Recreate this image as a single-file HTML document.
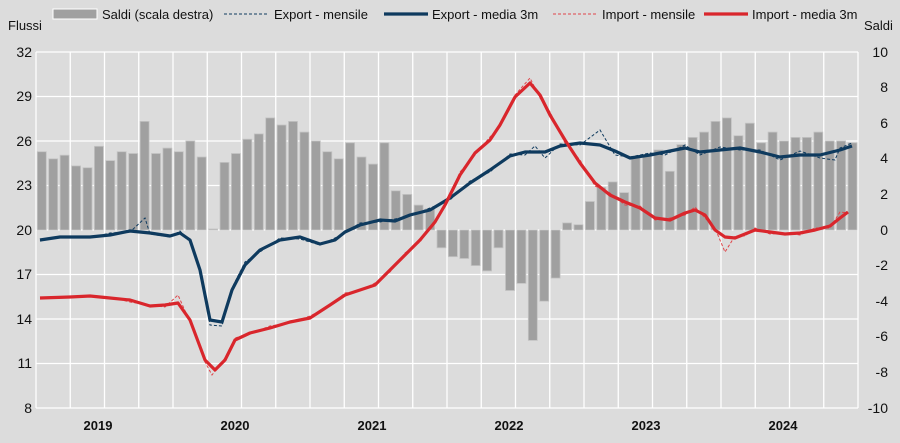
<!DOCTYPE html>
<html><head><meta charset="utf-8"><style>
html,body{margin:0;padding:0;background:#dcdcdc;}
svg{display:block;font-family:"Liberation Sans Narrow","Liberation Sans",sans-serif;}
</style></head><body>
<svg width="900" height="443" viewBox="0 0 900 443" xmlns="http://www.w3.org/2000/svg">
<rect width="900" height="443" fill="#dcdcdc"/>
<path stroke="#fff" stroke-width="1.3" fill="none" d="M36 52V408M70.25 52V408M104.5 52V408M138.75 52V408M173 52V408M207.25 52V408M241.5 52V408M275.75 52V408M310 52V408M344.25 52V408M378.5 52V408M412.75 52V408M447 52V408M481.25 52V408M515.5 52V408M549.75 52V408M584 52V408M618.25 52V408M652.5 52V408M686.75 52V408M721 52V408M755.25 52V408M789.5 52V408M823.75 52V408M858 52V408M36 52H858M36 96.5H858M36 141H858M36 185.5H858M36 230H858M36 274.5H858M36 319H858M36 363.5H858M36 408H858"/>
<g fill="#a0a0a0" stroke="#c4c4c4" stroke-width="0.8">
<rect x="37.3" y="151.7" width="9" height="78.3"/><rect x="48.7" y="158.8" width="9" height="71.2"/><rect x="60.1" y="155.2" width="9" height="74.8"/><rect x="71.6" y="165.9" width="9" height="64.1"/><rect x="83" y="167.7" width="9" height="62.3"/><rect x="94.4" y="146.3" width="9" height="83.7"/><rect x="105.8" y="160.6" width="9" height="69.4"/><rect x="117.2" y="151.7" width="9" height="78.3"/><rect x="128.7" y="153.5" width="9" height="76.5"/><rect x="140.1" y="121.4" width="9" height="108.6"/><rect x="151.5" y="153.5" width="9" height="76.5"/><rect x="162.9" y="148.1" width="9" height="81.9"/>
<rect x="174.3" y="151.7" width="9" height="78.3"/><rect x="185.8" y="141" width="9" height="89"/><rect x="197.2" y="157" width="9" height="73"/><rect x="208.6" y="229" width="9" height="1"/><rect x="220" y="162.4" width="9" height="67.6"/><rect x="231.4" y="153.5" width="9" height="76.5"/><rect x="242.8" y="139.2" width="9" height="90.8"/><rect x="254.3" y="133.9" width="9" height="96.1"/><rect x="265.7" y="117.9" width="9" height="112.1"/><rect x="277.1" y="125" width="9" height="105"/><rect x="288.5" y="121.4" width="9" height="108.6"/><rect x="299.9" y="132.1" width="9" height="97.9"/>
<rect x="311.4" y="141" width="9" height="89"/><rect x="322.8" y="151.7" width="9" height="78.3"/><rect x="334.2" y="158.8" width="9" height="71.2"/><rect x="345.6" y="142.8" width="9" height="87.2"/><rect x="357" y="157" width="9" height="73"/><rect x="368.5" y="164.1" width="9" height="65.9"/><rect x="379.9" y="142.8" width="9" height="87.2"/><rect x="391.3" y="190.8" width="9" height="39.2"/><rect x="402.7" y="194.4" width="9" height="35.6"/><rect x="414.1" y="205.1" width="9" height="24.9"/><rect x="425.6" y="208.6" width="9" height="21.4"/>
<rect x="437" y="230" width="9" height="17.8"/><rect x="448.4" y="230" width="9" height="26.7"/><rect x="459.8" y="230" width="9" height="28.5"/><rect x="471.2" y="230" width="9" height="35.6"/><rect x="482.6" y="230" width="9" height="40.9"/><rect x="494" y="230" width="9" height="17.8"/><rect x="505.5" y="230" width="9" height="60.5"/><rect x="516.9" y="230" width="9" height="53.4"/><rect x="528.3" y="230" width="9" height="110.4"/><rect x="539.7" y="230" width="9" height="71.2"/><rect x="551.1" y="230" width="9" height="48.1"/>
<rect x="562.6" y="222.9" width="9" height="7.1"/><rect x="574" y="224.7" width="9" height="5.3"/><rect x="585.4" y="201.5" width="9" height="28.5"/><rect x="596.8" y="187.3" width="9" height="42.7"/><rect x="608.2" y="181.9" width="9" height="48.1"/><rect x="619.7" y="192.6" width="9" height="37.4"/><rect x="631.1" y="157" width="9" height="73"/><rect x="642.5" y="155.2" width="9" height="74.8"/><rect x="653.9" y="149.9" width="9" height="80.1"/><rect x="665.3" y="171.3" width="9" height="58.7"/><rect x="676.8" y="144.6" width="9" height="85.4"/><rect x="688.2" y="137.4" width="9" height="92.6"/>
<rect x="699.6" y="132.1" width="9" height="97.9"/><rect x="711" y="121.4" width="9" height="108.6"/><rect x="722.4" y="117.9" width="9" height="112.1"/><rect x="733.9" y="135.7" width="9" height="94.3"/><rect x="745.3" y="123.2" width="9" height="106.8"/><rect x="756.7" y="142.8" width="9" height="87.2"/><rect x="768.1" y="132.1" width="9" height="97.9"/><rect x="779.5" y="141" width="9" height="89"/><rect x="791" y="137.4" width="9" height="92.6"/><rect x="802.4" y="137.4" width="9" height="92.6"/><rect x="813.8" y="132.1" width="9" height="97.9"/><rect x="825.2" y="141" width="9" height="89"/><rect x="836.6" y="141" width="9" height="89"/><rect x="848" y="142.8" width="9" height="87.2"/>
</g>
<polyline fill="none" stroke="#0e3a5e" stroke-width="1" stroke-dasharray="3,2" points="40,241 60,236 90,238 110,233 130,232 145,218 150,234 170,237 180,231 190,242 200,268 210,325 222,326 232,288 245,262 260,252 280,238 300,239 320,245 335,238 345,233 360,223 380,222 395,219 410,216 430,208 450,200 470,181 490,172 510,154 525,155 535,146 545,158 560,144 580,145 600,130 615,155 630,157 650,153 665,155 685,145 700,155 720,147 740,150 760,150 780,160 800,151 820,158 835,160 840,148 852,143"/>
<polyline fill="none" stroke="#e0454a" stroke-width="1" stroke-dasharray="3,2" points="40,299 70,296 90,297 110,297 130,302 150,305 165,307 178,295 190,322 205,362 212,375 225,358 235,338 250,334 270,326 290,323 310,316 330,306 345,293 360,291 375,283 390,272 405,253 420,242 435,220 445,207 460,172 475,155 490,137 500,127 515,95 530,78 540,98 550,112 565,143 580,160 595,186 610,193 625,205 640,206 655,220 670,218 685,215 695,207 705,218 715,228 725,252 735,236 745,236 755,228 770,234 785,233 800,235 815,228 830,228 840,212 848,213"/>
<polyline fill="none" stroke="#0e3a5e" stroke-width="3.2" stroke-linejoin="round" points="40,240 60,237 90,237 110,235 130,231 150,233 170,236 180,233 190,240 200,270 210,320 222,322 232,290 245,265 260,250 280,240 300,237 320,244 335,240 345,232 360,225 380,220 395,221 410,215 430,210 450,198 470,183 490,170 510,156 525,152 545,152 560,146 580,143 600,145 615,151 630,158 650,155 665,152 685,148 700,152 720,150 740,148 760,152 780,157 800,155 820,155 840,150 852,146"/>
<polyline fill="none" stroke="#d9262c" stroke-width="3.2" stroke-linejoin="round" points="40,298 70,297 90,296 110,298 130,300 150,306 165,305 178,303 190,320 205,360 215,370 225,360 235,340 250,333 270,328 290,322 310,318 330,305 345,295 360,290 375,285 390,270 405,255 420,240 435,222 445,205 460,175 475,153 490,140 500,125 515,97 530,83 540,95 550,115 565,140 580,163 595,183 610,195 625,202 640,208 655,218 670,220 685,213 695,210 705,215 715,230 725,237 735,238 745,234 755,230 770,232 785,234 800,233 815,230 830,226 840,218 848,212"/>
<g font-size="14" fill="#111">
<text x="8" y="30" font-size="13">Flussi</text>
<text x="864" y="30" font-size="13">Saldi</text>
<g text-anchor="end">
<text x="32" y="57">32</text><text x="32" y="101">29</text><text x="32" y="146">26</text><text x="32" y="190">23</text><text x="32" y="235">20</text><text x="32" y="279">17</text><text x="32" y="324">14</text><text x="32" y="368">11</text><text x="32" y="413">8</text>
<text x="888" y="57">10</text><text x="888" y="92">8</text><text x="888" y="128">6</text><text x="888" y="163">4</text><text x="888" y="199">2</text><text x="888" y="235">0</text><text x="888" y="270">-2</text><text x="888" y="306">-4</text><text x="888" y="341">-6</text><text x="888" y="377">-8</text><text x="888" y="413">-10</text>
</g>
<g font-weight="bold" text-anchor="middle" font-size="13">
<text x="98" y="430">2019</text><text x="235" y="430">2020</text><text x="372" y="430">2021</text><text x="509" y="430">2022</text><text x="646" y="430">2023</text><text x="783" y="430">2024</text>
</g>
<g font-size="13">
<rect x="53" y="9" width="44" height="10" fill="#a0a0a0" stroke="#fff"/>
<text x="102" y="19">Saldi (scala destra)</text>
<line x1="224" y1="14" x2="268" y2="14" stroke="#0e3a5e" stroke-dasharray="3,2"/>
<text x="274" y="19">Export - mensile</text>
<line x1="384" y1="14" x2="428" y2="14" stroke="#0e3a5e" stroke-width="3.2"/>
<text x="432" y="19">Export - media 3m</text>
<line x1="553" y1="14" x2="597" y2="14" stroke="#e0454a" stroke-dasharray="3,2"/>
<text x="602" y="19">Import - mensile</text>
<line x1="704" y1="14" x2="748" y2="14" stroke="#d9262c" stroke-width="3.2"/>
<text x="752" y="19">Import - media 3m</text>
</g>
</g>
</svg>
</body></html>
